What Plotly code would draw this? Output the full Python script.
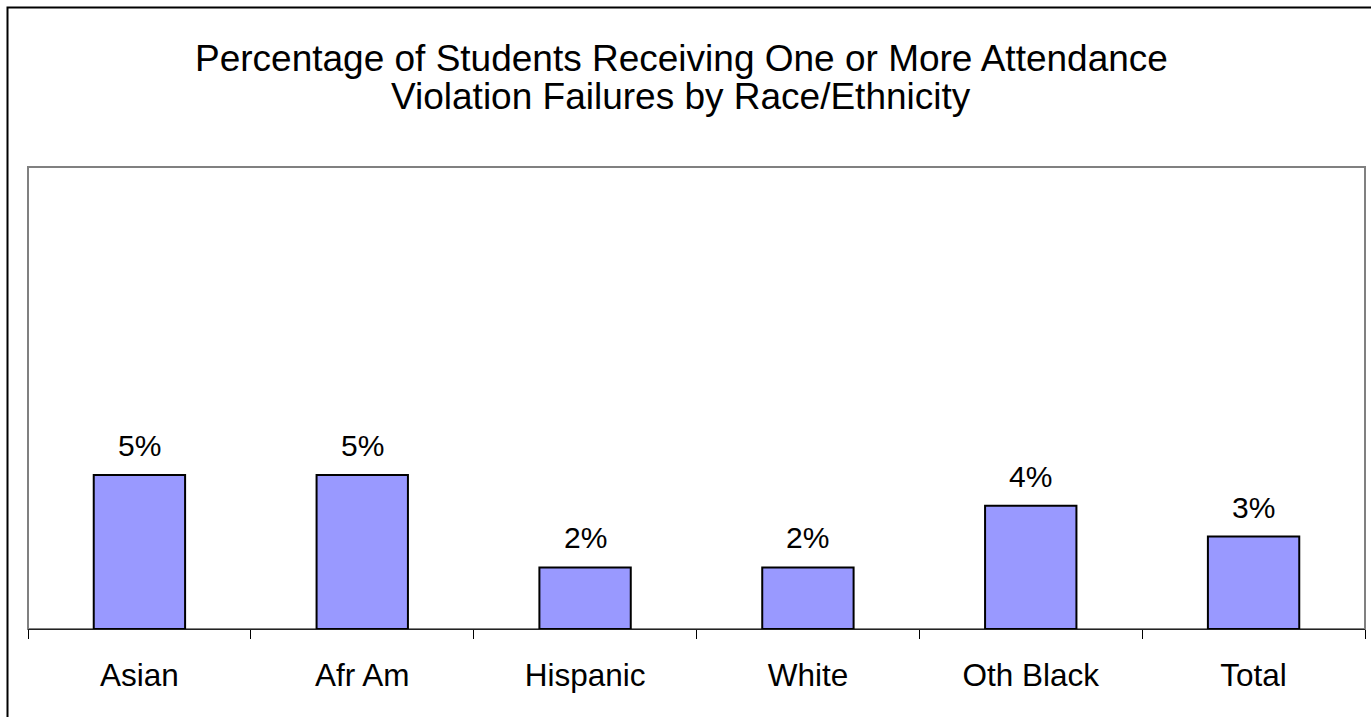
import plotly.graph_objects as go

# Share of students with one or more attendance violation failures (%)
groups = ["Asian", "Afr Am", "Hispanic", "White", "Oth Black", "Total"]
pct_values = [5, 5, 2, 2, 4, 3]

title_lines = ["Percentage of Students Receiving One or More Attendance",
               "Violation Failures by Race/Ethnicity"]

FONT = "Liberation Sans, Arial, sans-serif"
W, H = 1371, 717
L, R, T, B = 28, 6, 167, 88
plot_w = W - L - R
plot_h = H - T - B

def px_x(p):
    return (p - L) / plot_w

def px_y(p):
    return (H - B - p) / plot_h

fig = go.Figure()
fig.add_trace(go.Bar(
    x=groups,
    y=pct_values,
    width=0.41,
    marker=dict(color="#9999FF", line=dict(color="#000000", width=2)),
    hoverinfo="skip",
))

# value labels above each bar
for g, v in zip(groups, pct_values):
    fig.add_annotation(
        x=g, y=v, xref="x", yref="y",
        text=f"{v:.0f}%", showarrow=False,
        yanchor="bottom", yshift=11,
        font=dict(family=FONT, size=30, color="#000000"),
    )

# chart title, one annotation per line
for line, ypx in zip(title_lines, [58, 97]):
    fig.add_annotation(
        x=px_x(681), xref="paper", y=px_y(ypx), yref="paper",
        text=line, showarrow=False,
        yanchor="middle", xanchor="center",
        font=dict(family=FONT, size=37, color="#000000"),
    )

shapes = [
    # plot area frame
    dict(type="rect", xref="paper", yref="paper", x0=0, y0=0, x1=1, y1=1,
         line=dict(color="#808080", width=2), layer="below"),
    # outer chart frame
    dict(type="rect", xref="paper", yref="paper",
         x0=px_x(7.5), y0=px_y(730), x1=px_x(1385), y1=px_y(7.5),
         line=dict(color="#000000", width=2), layer="below"),
]

fig.update_layout(
    width=W, height=H,
    margin=dict(l=L, r=R, t=T, b=B, pad=0),
    paper_bgcolor="white", plot_bgcolor="white",
    showlegend=False,
    shapes=shapes,
    font=dict(family=FONT, color="#000000"),
    xaxis=dict(
        type="category",
        tickson="boundaries",
        ticks="outside", ticklen=9, tickwidth=1, tickcolor="#000000",
        showline=True, linecolor="#222222", linewidth=1.2,
        tickfont=dict(family=FONT, size=31.5, color="#000000"),
        ticklabelstandoff=18,
        showgrid=False, zeroline=False,
        range=[-0.5, 5.5],
    ),
    yaxis=dict(
        range=[0, 15], visible=False, showgrid=False, zeroline=False,
    ),
)

fig.write_html("out.html")
